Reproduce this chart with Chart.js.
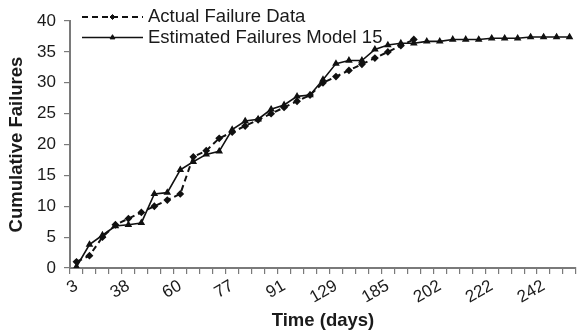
<!DOCTYPE html>
<html lang="en">
<head>
<meta charset="UTF-8">
<title>Cumulative Failures</title>
<script src="https://cdn.jsdelivr.net/npm/chart.js"></script>
<style>
  body { margin: 0; background: #fff; }
  .wrap { width: 582px; height: 332px; }
</style>
</head>
<body>
<div class="wrap"><canvas id="failChart" width="582" height="332"></canvas></div>
<script>
// only every 4th observation gets a day label on the time axis
const tickDays = ['3', '38', '60', '77', '91', '129', '185', '202', '222', '242'];
const labelStep = 4;
const pointCount = 39;

const actualFailures = [1, 2, 5, 7, 8, 9, 10, 11, 12, 18, 19, 21, 22, 23, 24, 25, 26, 27, 28,
  30, 31, 32, 33, 34, 35, 36, 37];
const estimatedModel15 = [0.2, 3.8, 5.3, 6.8, 7.0, 7.3, 12.0, 12.2, 15.9, 17.2, 18.4, 18.9, 22.4,
  23.8, 24.1, 25.7, 26.4, 27.8, 28.0, 30.5, 33.1, 33.6, 33.6, 35.4, 36.1, 36.4, 36.4, 36.7, 36.7,
  37.0, 37.0, 37.0, 37.2, 37.2, 37.2, 37.4, 37.4, 37.4, 37.4];

const yTicks = { min: 0, max: 40, step: 5 };

const categories = [];
for (let i = 0; i < pointCount; i++) {
  categories.push(i % labelStep === 0 ? tickDays[i / labelStep] : '');
}

const axisGray = '#7a7a7a';
const font = 'Liberation Sans, Arial, sans-serif';

// legend drawn inside the plot, top-left, like the original figure
const insideLegend = {
  id: 'insideLegend',
  afterDraw(chart) {
    const ctx = chart.ctx;
    const left = chart.chartArea.left;
    chart.data.datasets.forEach((ds, i) => {
      const y = 17 + i * 20.5;
      const x0 = left + 12, x1 = left + 73;
      ctx.save();
      ctx.strokeStyle = ds.borderColor;
      ctx.fillStyle = ds.borderColor;
      ctx.lineWidth = ds.borderWidth;
      ctx.setLineDash(ds.borderDash || []);
      ctx.beginPath();
      ctx.moveTo(x0, y);
      ctx.lineTo(x1, y);
      ctx.stroke();
      ctx.setLineDash([]);
      ctx.lineWidth = 1;
      Chart.helpers.drawPoint(ctx, { pointStyle: ds.pointStyle, radius: ds.pointRadius, borderWidth: 1 }, (x0 + x1) / 2, y);
      ctx.font = '18.5px ' + font;
      ctx.textBaseline = 'middle';
      ctx.fillStyle = '#1a1a1a';
      ctx.fillText(ds.label, left + 78, y);
      ctx.restore();
    });
  }
};

new Chart(document.getElementById('failChart'), {
  type: 'line',
  data: {
    labels: categories,
    datasets: [{
      label: 'Actual Failure Data',
      data: actualFailures,
      borderColor: '#111',
      backgroundColor: '#111',
      borderWidth: 2,
      borderDash: [6, 4],
      pointStyle: 'rectRot',
      pointRadius: 2.5,
      tension: 0
    }, {
      label: 'Estimated Failures Model 15',
      data: estimatedModel15,
      borderColor: '#111',
      backgroundColor: '#111',
      borderWidth: 1.6,
      pointStyle: 'triangle',
      pointRadius: 2.8,
      tension: 0
    }]
  },
  options: {
    responsive: false,
    animation: false,
    layout: { padding: { top: 21, right: 0, bottom: 0, left: 0 } },
    plugins: { legend: { display: false }, tooltip: { enabled: false } },
    scales: {
      x: {
        offset: true,
        grid: { offset: true, drawOnChartArea: false, tickLength: 6, color: axisGray, lineWidth: 1.2 },
        border: { color: axisGray, width: 2 },
        ticks: {
          autoSkip: false, minRotation: 30, maxRotation: 30, padding: 2,
          color: '#1a1a1a', font: { family: font, size: 17 }
        },
        title: {
          display: true, text: 'Time (days)', color: '#1a1a1a',
          font: { family: font, size: 18.5, weight: 'bold' }, padding: { top: 0, bottom: 0 }
        },
        afterFit(scale) { scale.height = 64; }
      },
      y: {
        min: yTicks.min, max: yTicks.max,
        grid: { drawOnChartArea: false, tickLength: 6, color: axisGray, lineWidth: 1.2 },
        border: { color: axisGray, width: 2 },
        ticks: { stepSize: yTicks.step, padding: 8, color: '#1a1a1a', font: { family: font, size: 17 } },
        title: {
          display: true, text: 'Cumulative Failures', color: '#1a1a1a',
          font: { family: font, size: 18.5, weight: 'bold' }, padding: { top: 6, bottom: 0 }
        },
        afterFit(scale) { scale.width = 70; }
      }
    }
  },
  plugins: [insideLegend]
});
</script>
</body>
</html>
